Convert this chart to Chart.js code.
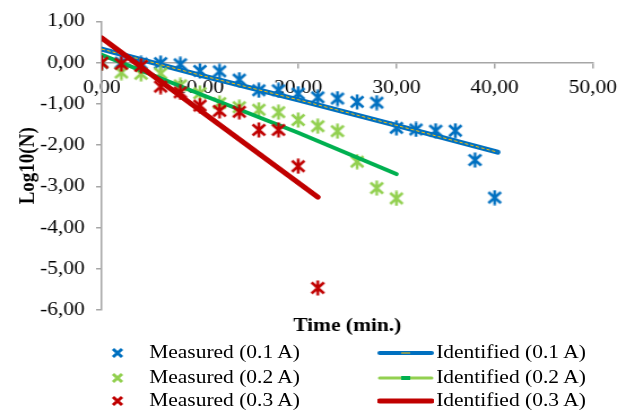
<!DOCTYPE html>
<html>
<head>
<meta charset="utf-8">
<script src="https://cdn.jsdelivr.net/npm/chart.js@4"></script>
<style>
html, body { margin: 0; padding: 0; background: #fff; overflow: hidden; }
#wrap { position: relative; width: 555px; height: 415px; transform: scaleX(1.13); transform-origin: 0 0; }
#legend { position: absolute; left: 0; top: 0; font-family: 'Liberation Serif', 'Times New Roman', serif; font-size: 19px; color: #000; }
.it { position: absolute; white-space: nowrap; line-height: 20px; }
.sym { position: absolute; }
</style>
</head>
<body>
<div id="wrap">
  <canvas id="grafico" width="555" height="415"></canvas>
  <div id="legend"></div>
</div>
<script>
// measured data (log10 N vs time in minutes)
const tempo01 = [0, 2, 4, 6, 8, 10, 12, 14, 16, 18, 20, 22, 24, 26, 28, 30, 32, 34, 36, 38, 40];
const medido01 = [0.00, 0.00, -0.02, -0.01, -0.04, -0.20, -0.21, -0.41, -0.67, -0.67, -0.75, -0.84, -0.87, -0.95, -0.97, -1.58, -1.62, -1.65, -1.65, -2.36, -3.27];

const tempo02 = [0, 2, 4, 6, 8, 10, 12, 14, 16, 18, 20, 22, 24, 26, 28, 30];
const medido02 = [0.00, -0.24, -0.27, -0.26, -0.55, -0.74, -0.98, -1.08, -1.14, -1.20, -1.39, -1.54, -1.66, -2.40, -3.04, -3.29];

const tempo03 = [0, 2, 4, 6, 8, 10, 12, 14, 16, 18, 20, 22];
const medido03 = [0.00, -0.03, -0.08, -0.58, -0.72, -1.04, -1.17, -1.19, -1.63, -1.63, -2.51, -5.46];

// identified model lines
const tempoId01 = [0, 10, 20, 30, 40.3];
const ident01 = [0.33, -0.30, -0.90, -1.52, -2.17];
const tempoId02 = [0, 10, 20, 30];
const ident02 = [0.19, -0.76, -1.70, -2.70];
const tempoId03 = [0, 22];
const ident03 = [0.6, -3.26];

const xTicks = [0, 10, 20, 30, 40, 50];
const yTicks = [1, 0, -1, -2, -3, -4, -5, -6];

const fonte = "'Liberation Serif', 'Times New Roman', serif";

function pontos(xs, ys){
    return xs.map(function(x, i){ return {x: x, y: ys[i]}; });
}

function estrela(cor){
    const c = document.createElement('canvas');
    c.width = 14; c.height = 16;
    const g = c.getContext('2d');
    g.strokeStyle = cor;
    g.lineWidth = 2.5;
    g.beginPath();
    g.moveTo(1.5, 2.5); g.lineTo(12.5, 13.5);
    g.moveTo(12.5, 2.5); g.lineTo(1.5, 13.5);
    g.moveTo(7, 0.5); g.lineTo(7, 15.5);
    g.stroke();
    return c;
}

function fmt(v){
    return Number(v).toFixed(2).replace('.', ',');
}

const azul = '#0070C0', verde = '#92D050', verdeEsc = '#00B050', vermelho = '#C00000';

const ctx = document.getElementById('grafico').getContext('2d');
const myChart = new Chart(ctx, {
    type: 'scatter',
    data: {
        datasets: [
            { label: 'Measured (0.1 A)', data: pontos(tempo01, medido01), pointStyle: estrela(azul), pointRadius: 7, showLine: false, order: 6 },
            { label: 'Identified (0.1 A)', data: pontos(tempoId01, ident01), showLine: true, borderColor: azul, borderWidth: 5, pointRadius: 0, borderCapStyle: 'round', order: 5 },
            { label: '', data: pontos(tempoId01, ident01), showLine: true, borderColor: '#FFC000', borderWidth: 1, borderDash: [3, 2], pointRadius: 0, order: 4 },
            { label: 'Measured (0.2 A)', data: pontos(tempo02, medido02), pointStyle: estrela(verde), pointRadius: 7, showLine: false, order: 3 },
            { label: 'Identified (0.2 A)', data: pontos(tempoId02, ident02), showLine: true, borderColor: verdeEsc, borderWidth: 4, pointRadius: 0, borderCapStyle: 'round', order: 2 },
            { label: 'Measured (0.3 A)', data: pontos(tempo03, medido03), pointStyle: estrela(vermelho), pointRadius: 7, showLine: false, order: 1 },
            { label: 'Identified (0.3 A)', data: pontos(tempoId03, ident03), showLine: true, borderColor: vermelho, borderWidth: 5, pointRadius: 0, borderCapStyle: 'round', order: 0 }
        ]
    },
    options: {
        responsive: false,
        animation: false,
        devicePixelRatio: 1,
        layout: { padding: { left: 0, right: 25, top: 18, bottom: 78 } },
        plugins: {
            legend: { display: false },
            tooltip: { enabled: false },
            title: {
                display: true, text: 'Time (min.)', position: 'bottom', fullSize: false, color: '#000',
                font: { family: fonte, size: 19, weight: 'bold' }, padding: { top: 4, bottom: 0 }
            }
        },
        scales: {
            x: {
                type: 'linear', position: { y: 0 }, min: 0, max: 50,
                afterBuildTicks: function(s){ s.ticks = xTicks.map(function(v){ return {value: v}; }); },
                ticks: { callback: fmt, color: '#000', font: { family: fonte, size: 19 }, padding: 9, maxRotation: 0, autoSkip: false },
                grid: { drawOnChartArea: false, tickLength: 5, color: '#a6a6a6', lineWidth: 1.5 },
                border: { color: '#a6a6a6', width: 1.5 }
            },
            y: {
                min: -6, max: 1,
                afterBuildTicks: function(s){ s.ticks = yTicks.map(function(v){ return {value: v}; }); },
                afterFit: function(s){ s.width = 90; },
                ticks: { callback: fmt, color: '#000', font: { family: fonte, size: 19 }, padding: 10 },
                grid: { drawOnChartArea: false, tickLength: 5, color: '#a6a6a6', lineWidth: 1.5 },
                border: { color: '#a6a6a6', width: 1.5 },
                title: { display: true, text: 'Log10(N)', color: '#000', font: { family: fonte, size: 19, weight: 'bold' }, padding: { top: 14, bottom: 0 } }
            }
        }
    }
});

// legend (two columns, three rows)
const legenda = document.getElementById('legend');
const linhasY = [353, 378, 401];
const itensM = [['Measured (0.1 A)', azul], ['Measured (0.2 A)', verde], ['Measured (0.3 A)', vermelho]];
const itensI = [['Identified (0.1 A)', azul, 4, '#FFC000'], ['Identified (0.2 A)', verde, 3, verdeEsc], ['Identified (0.3 A)', vermelho, 5, null]];

function texto(t, x, y){
    const s = document.createElement('span');
    s.className = 'it';
    s.textContent = t;
    s.style.left = x + 'px';
    s.style.top = (y - 11) + 'px';
    legenda.appendChild(s);
}

itensM.forEach(function(it, i){
    const c = document.createElement('canvas');
    c.width = 12; c.height = 12; c.className = 'sym';
    c.style.left = '98px'; c.style.top = (linhasY[i] - 6) + 'px';
    const g = c.getContext('2d');
    g.strokeStyle = it[1]; g.lineWidth = 3;
    g.beginPath(); g.moveTo(2, 2); g.lineTo(10, 10); g.moveTo(10, 2); g.lineTo(2, 10); g.stroke();
    legenda.appendChild(c);
    texto(it[0], 132, linhasY[i]);
});

itensI.forEach(function(it, i){
    const c = document.createElement('canvas');
    c.width = 50; c.height = 8; c.className = 'sym';
    c.style.left = '334px'; c.style.top = (linhasY[i] - 4) + 'px';
    const g = c.getContext('2d');
    g.strokeStyle = it[1]; g.lineWidth = it[2]; g.lineCap = 'round';
    g.beginPath(); g.moveTo(2, 4); g.lineTo(48, 4); g.stroke();
    if (it[3]) {
        g.strokeStyle = it[3]; g.lineWidth = it[3] === '#FFC000' ? 1 : 4; g.lineCap = 'butt';
        g.beginPath(); g.moveTo(21, 4); g.lineTo(29, 4); g.stroke();
    }
    legenda.appendChild(c);
    texto(it[0], 386, linhasY[i]);
});
</script>
</body>
</html>
